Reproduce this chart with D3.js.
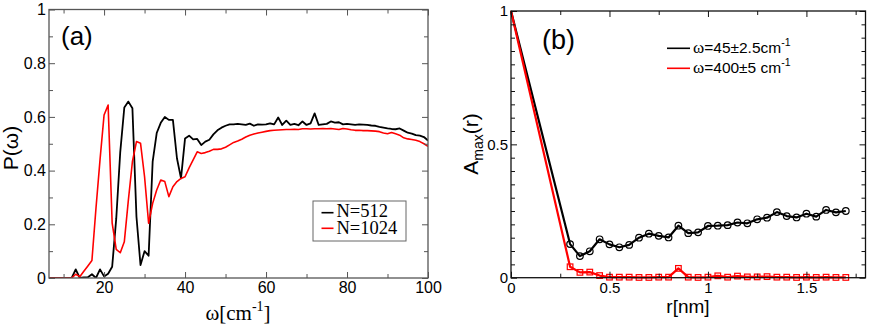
<!DOCTYPE html>
<html><head><meta charset="utf-8">
<script src="https://cdn.jsdelivr.net/npm/d3@7"></script>
<style>body{margin:0;background:#fff} svg{display:block}</style>
</head><body><svg id="c" width="872" height="325"></svg>
<script>
// ---------- Panel (a) data ----------
const omega = [6,7,8,9,10,11,12,13,14,15,16,17,18,19,20,21,22,23,24,25,26,27,28,29,30,31,32,33,34,35,36,37,38,39,40,
  41,42,43,44,45,46,47,48,49,50,51,52,53,54,55,56,57,58,59,60,61,62,63,64,65,66,67,68,69,70,
  71,72,73,74,75,76,77,78,79,80,81,82,83,84,85,86,87,88,89,90,91,92,93,94,95,96,97,98,99,100];
const p512 = [0,0,0,0,0,0,0,0.032,0,0.002,0.003,0.014,0,0.032,0.006,0.016,0.042,0.22,0.47,0.635,0.657,0.632,0.228,0.048,0.1,
  0.083,0.433,0.54,0.578,0.6,0.589,0.589,0.446,0.371,0.52,
  0.53,0.516,0.518,0.495,0.508,0.515,0.535,0.55,0.56,0.567,0.572,0.572,0.574,0.572,0.57,0.575,0.567,0.572,0.571,0.572,
  0.576,0.572,0.598,0.57,0.586,0.57,0.574,0.569,0.583,0.57,0.576,0.613,0.57,0.572,0.574,0.583,0.579,0.58,0.572,0.574,
  0.572,0.57,0.572,0.571,0.57,0.568,0.567,0.563,0.56,0.557,0.555,0.554,0.557,0.549,0.541,0.538,0.532,0.53,0.525,0.512];
const p1024 = [0,0,0,0,0,0,0,0.014,0.005,0.025,0.045,0.065,0.26,0.44,0.607,0.644,0.204,0.107,0.094,0.135,0.29,0.433,0.508,0.502,0.377,
  0.204,0.278,0.328,0.365,0.359,0.303,0.34,0.359,0.371,0.377,
  0.41,0.44,0.47,0.464,0.467,0.472,0.479,0.479,0.481,0.487,0.496,0.505,0.51,0.517,0.525,0.532,0.536,0.54,0.543,0.546,
  0.549,0.55,0.551,0.552,0.553,0.553,0.554,0.553,0.556,0.556,0.555,0.556,0.556,0.557,0.556,0.557,0.555,0.553,0.557,0.555,
  0.552,0.55,0.55,0.549,0.549,0.548,0.547,0.545,0.54,0.537,0.542,0.537,0.532,0.522,0.518,0.516,0.513,0.508,0.5,0.49];
const legendA = ["N=512", "N=1024"];
const aXTicks = [20, 40, 60, 80, 100];
const aXMinor = [10, 30, 50, 70, 90];
const aYTicks = [0, 0.2, 0.4, 0.6, 0.8, 1];
const aYLabels = ["0", "0.2", "0.4", "0.6", "0.8", "1"];
const aYMinor = [0.1, 0.3, 0.5, 0.7, 0.9];

// ---------- Panel (b) data ----------
const rNm = [0,0.3,0.35,0.4,0.45,0.5,0.55,0.6,0.65,0.7,0.75,0.8,0.85,0.9,0.95,1.0,1.05,1.1,1.15,1.2,1.25,1.3,1.35,1.4,1.45,1.5,1.55,1.6,1.65,1.7];
const amp45 = [1,0.126,0.081,0.099,0.144,0.125,0.114,0.123,0.15,0.165,0.157,0.151,0.195,0.167,0.17,0.194,0.195,0.197,0.207,0.204,0.219,0.225,0.246,0.231,0.226,0.24,0.229,0.254,0.245,0.25];
const amp400 = [1,0.041,0.02,0.021,0.008,0.002,0.002,0.002,0.001,0.001,0.002,0.002,0.035,0.002,0.001,0.002,0.007,0.002,0.006,0.003,0.003,0.004,0.002,0.002,0.001,0.002,0.001,0.002,0.001,0.001];
const bXTicks = [0, 0.5, 1, 1.5];
const bXLabels = ["0", "0.5", "1", "1.5"];
const bXMinor = [0.25, 0.75, 1.25, 1.75];
const bYTicks = [0, 0.5, 1];
const bYLabels = ["0", "0.5", "1"];
const bYMinor = [0.05,0.1,0.15,0.2,0.25,0.3,0.35,0.4,0.45,0.55,0.6,0.65,0.7,0.75,0.8,0.85,0.9,0.95];

const SANS = "'Liberation Sans', Arial, Helvetica, sans-serif";
const SERIF = "'Liberation Serif', 'Times New Roman', serif";
const RED = "#ff0000";
const svg = d3.select("#c");

function frame(x, y, opt) {
  const [x0, x1] = x.range(), [y0, y1] = y.range();
  const g = svg.append("g");
  const fmt = (ticks, labels) => (d => labels[ticks.indexOf(d)]);
  const style = sel => {
    sel.select(".domain").remove();
    sel.selectAll("line").attr("stroke", opt.color).attr("stroke-width", 1);
    sel.selectAll("text").attr("fill", "#000").attr("font-family", SANS).attr("font-size", opt.fs);
  };
  g.append("g").attr("transform", `translate(0,${y0})`)
    .call(d3.axisBottom(x).tickValues(opt.xt).tickSize(-6).tickPadding(opt.xpad).tickFormat(fmt(opt.xt, opt.xl))).call(style);
  g.append("g").attr("transform", `translate(0,${y0})`)
    .call(d3.axisBottom(x).tickValues(opt.xm).tickSize(-4).tickFormat("")).call(style);
  g.append("g").attr("transform", `translate(0,${y1})`)
    .call(d3.axisTop(x).tickValues(opt.xt).tickSize(-6).tickFormat("")).call(style);
  g.append("g").attr("transform", `translate(0,${y1})`)
    .call(d3.axisTop(x).tickValues(opt.xm).tickSize(-4).tickFormat("")).call(style);
  g.append("g").attr("transform", `translate(${x0},0)`)
    .call(d3.axisLeft(y).tickValues(opt.yt).tickSize(-6).tickPadding(opt.ypad).tickFormat(fmt(opt.yt, opt.yl))).call(style);
  g.append("g").attr("transform", `translate(${x0},0)`)
    .call(d3.axisLeft(y).tickValues(opt.ym).tickSize(-4).tickFormat("")).call(style);
  g.append("g").attr("transform", `translate(${x1},0)`)
    .call(d3.axisRight(y).tickValues(opt.yt).tickSize(-6).tickFormat("")).call(style);
  g.append("g").attr("transform", `translate(${x1},0)`)
    .call(d3.axisRight(y).tickValues(opt.ym).tickSize(-4).tickFormat("")).call(style);
  g.append("rect").attr("x", x0).attr("y", y1).attr("width", x1 - x0).attr("height", y0 - y1)
    .attr("fill", "none").attr("stroke", opt.color).attr("stroke-width", opt.fw);
  return g;
}

// ================= Panel (a) =================
const ax = d3.scaleLinear().domain([6.4, 100]).range([49, 428]);
const ay = d3.scaleLinear().domain([0, 1]).range([278, 9.5]);
svg.append("clipPath").attr("id", "clipA").append("rect")
  .attr("x", 49).attr("y", 9.5).attr("width", 379).attr("height", 268.5);
const lineA = d3.line().x((d, i) => ax(omega[i])).y(d => ay(d));
const gA = svg.append("g").attr("clip-path", "url(#clipA)");
gA.append("path").datum(p512).attr("d", lineA).attr("fill", "none").attr("stroke", "#000").attr("stroke-width", 1.8).attr("stroke-linejoin", "round");
gA.append("path").datum(p1024).attr("d", lineA).attr("fill", "none").attr("stroke", RED).attr("stroke-width", 1.6).attr("stroke-linejoin", "round");
frame(ax, ay, {xt: aXTicks, xl: aXTicks.map(String), xm: aXMinor, yt: aYTicks, yl: aYLabels, ym: aYMinor,
  color: "#555", fw: 1.3, fs: 16, xpad: 4, ypad: 3});

svg.append("text").attr("x", 61).attr("y", 45).attr("font-family", SANS).attr("font-size", 26).text("(a)");
svg.append("text").attr("transform", "translate(18,148) rotate(-90)").attr("text-anchor", "middle")
  .attr("font-family", SANS).attr("font-size", 21).text("P(ω)");
const xlA = svg.append("text").attr("x", 238).attr("y", 320).attr("text-anchor", "middle")
  .attr("font-family", SERIF).attr("font-size", 21);
xlA.append("tspan").text("ω[cm");
xlA.append("tspan").attr("font-size", 14).attr("dy", -9).text("-1");
xlA.append("tspan").attr("dy", 9).text("]");

// legend (a)
svg.append("rect").attr("x", 313).attr("y", 201).attr("width", 93).attr("height", 40)
  .attr("fill", "#fff").attr("stroke", "#666").attr("stroke-width", 1);
[["#000", 212.7, 217], [RED, 228.3, 233.5]].forEach((c, i) => {
  svg.append("line").attr("x1", 321.5).attr("x2", 333.5).attr("y1", c[1]).attr("y2", c[1])
    .attr("stroke", c[0]).attr("stroke-width", 1.6);
  svg.append("text").attr("x", 336.5).attr("y", c[2]).attr("font-family", SERIF).attr("font-size", 18.5).text(legendA[i]);
});

// ================= Panel (b) =================
const bx = d3.scaleLinear().domain([0, 1.8]).range([511, 865.5]);
const by = d3.scaleLinear().domain([0, 1]).range([277.7, 11]);
const lineB = d3.line().x((d, i) => bx(rNm[i])).y(d => by(d));
const gB = svg.append("g");
gB.append("path").datum(amp45).attr("d", lineB).attr("fill", "none").attr("stroke", "#000").attr("stroke-width", 2.2).attr("stroke-linejoin", "round");
gB.append("path").datum(amp400).attr("d", lineB).attr("fill", "none").attr("stroke", RED).attr("stroke-width", 2.2).attr("stroke-linejoin", "round");
gB.selectAll("circle.m").data(amp45.map((v, i) => [rNm[i], v]).filter(d => d[0] > 0)).join("circle")
  .attr("cx", d => bx(d[0])).attr("cy", d => by(d[1])).attr("r", 3.3)
  .attr("fill", "none").attr("stroke", "#000").attr("stroke-width", 1.2);
const sq = 5.6;
gB.selectAll("rect.m").data(amp400.map((v, i) => [rNm[i], v]).filter(d => d[0] > 0)).join("rect")
  .attr("x", d => bx(d[0]) - sq / 2).attr("y", d => by(d[1]) - sq / 2).attr("width", sq).attr("height", sq)
  .attr("fill", "none").attr("stroke", RED).attr("stroke-width", 1.2);
frame(bx, by, {xt: bXTicks, xl: bXLabels, xm: bXMinor, yt: bYTicks, yl: bYLabels, ym: bYMinor,
  color: "#111", fw: 1.3, fs: 15, xpad: 5, ypad: 3});

svg.append("text").attr("x", 542).attr("y", 49).attr("font-family", SANS).attr("font-size", 27).text("(b)");
const ylB = svg.append("text").attr("transform", "translate(478,144) rotate(-90)").attr("text-anchor", "middle")
  .attr("font-family", SANS).attr("font-size", 21);
ylB.append("tspan").text("A");
ylB.append("tspan").attr("font-size", 14).attr("dy", 5).text("max");
ylB.append("tspan").attr("dy", -5).text("(r)");
svg.append("text").attr("x", 688).attr("y", 313).attr("text-anchor", "middle")
  .attr("font-family", SANS).attr("font-size", 19).text("r[nm]");

// legend (b)
const legendB = [["ω", "=45±2.5cm"], ["ω", "=400±5 cm"]];
[["#000", 48.3, 52.5], [RED, 68.3, 72.5]].forEach((c, i) => {
  svg.append("line").attr("x1", 667).attr("x2", 690).attr("y1", c[1]).attr("y2", c[1])
    .attr("stroke", c[0]).attr("stroke-width", 1.6);
  const t = svg.append("text").attr("x", 693).attr("y", c[2]).attr("font-family", SANS).attr("font-size", 15.5);
  t.append("tspan").attr("font-family", SERIF).attr("font-size", 17).text(legendB[i][0]);
  t.append("tspan").text(legendB[i][1]);
  t.append("tspan").attr("font-size", 10.5).attr("dy", -7).text("-1");
});
</script></body></html>
